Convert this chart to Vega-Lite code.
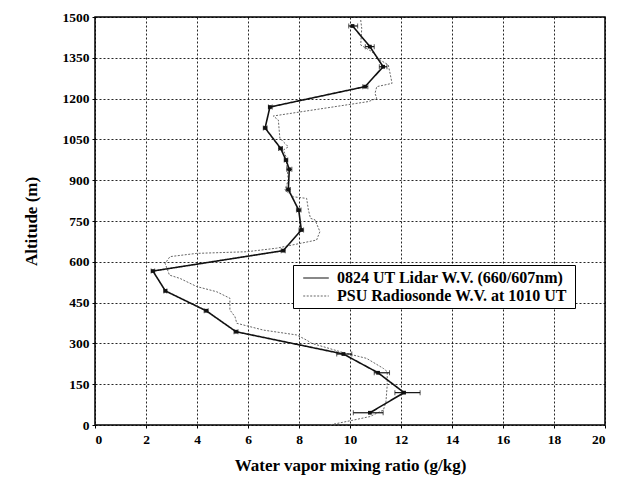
{
  "$schema": "https://vega.github.io/schema/vega-lite/v6.json",
  "width": 510,
  "height": 408,
  "autosize": {"type": "none"},
  "padding": {"left": 95, "top": 17, "right": 13, "bottom": 57},
  "background": "white",
  "config": {
    "view": {"stroke": "black", "strokeWidth": 1.5},
    "font": "Liberation Serif",
    "axis": {
      "labelFont": "Liberation Serif", "labelFontWeight": "bold", "labelFontSize": 13.5, "labelColor": "black",
      "titleFont": "Liberation Serif", "titleFontWeight": "bold", "titleFontSize": 17, "titleColor": "black",
      "grid": true, "gridColor": "black", "gridDash": [2, 2], "gridOpacity": 0.85, "gridWidth": 1,
      "domain": false, "tickColor": "black", "tickSize": 3
    }
  },
  "datasets": {
    "lidar": [
      {"alt": 1467, "v": 10.1, "lo": 9.95, "hi": 10.3},
      {"alt": 1391, "v": 10.78, "lo": 10.6, "hi": 10.95},
      {"alt": 1317, "v": 11.3, "lo": 11.15, "hi": 11.45},
      {"alt": 1244, "v": 10.59, "lo": 10.5, "hi": 10.7},
      {"alt": 1169, "v": 6.86, "lo": 6.8, "hi": 6.95},
      {"alt": 1092, "v": 6.67, "lo": 6.6, "hi": 6.75},
      {"alt": 1017, "v": 7.28, "lo": 7.2, "hi": 7.35},
      {"alt": 974, "v": 7.49, "lo": 7.42, "hi": 7.56},
      {"alt": 940, "v": 7.62, "lo": 7.52, "hi": 7.72},
      {"alt": 866, "v": 7.58, "lo": 7.5, "hi": 7.66},
      {"alt": 790, "v": 7.99, "lo": 7.9, "hi": 8.08},
      {"alt": 717, "v": 8.09, "lo": 8.0, "hi": 8.18},
      {"alt": 641, "v": 7.38, "lo": 7.3, "hi": 7.46},
      {"alt": 566, "v": 2.27, "lo": 2.2, "hi": 2.34},
      {"alt": 493, "v": 2.76, "lo": 2.7, "hi": 2.82},
      {"alt": 420, "v": 4.36, "lo": 4.28, "hi": 4.44},
      {"alt": 343, "v": 5.53, "lo": 5.45, "hi": 5.61},
      {"alt": 261, "v": 9.74, "lo": 9.48, "hi": 10.07},
      {"alt": 192, "v": 11.1, "lo": 10.95, "hi": 11.55},
      {"alt": 119, "v": 12.12, "lo": 11.76, "hi": 12.75},
      {"alt": 45, "v": 10.78, "lo": 10.13, "hi": 11.3}
    ],
    "sonde": [
      {"alt": 1489, "v": 10.42}, {"alt": 1458, "v": 10.46}, {"alt": 1397, "v": 10.42},
      {"alt": 1373, "v": 10.85}, {"alt": 1342, "v": 11.18}, {"alt": 1324, "v": 11.5},
      {"alt": 1293, "v": 11.57}, {"alt": 1256, "v": 11.65}, {"alt": 1244, "v": 11.05},
      {"alt": 1219, "v": 10.98}, {"alt": 1201, "v": 11.05}, {"alt": 1189, "v": 10.72},
      {"alt": 1136, "v": 6.99}, {"alt": 1121, "v": 7.19}, {"alt": 1054, "v": 7.25},
      {"alt": 1023, "v": 7.58}, {"alt": 1011, "v": 7.39}, {"alt": 986, "v": 7.49},
      {"alt": 901, "v": 7.58}, {"alt": 864, "v": 7.45}, {"alt": 839, "v": 7.78},
      {"alt": 833, "v": 8.3}, {"alt": 790, "v": 8.37}, {"alt": 760, "v": 8.45},
      {"alt": 754, "v": 8.63}, {"alt": 711, "v": 8.82}, {"alt": 680, "v": 8.69},
      {"alt": 650, "v": 7.12}, {"alt": 637, "v": 5.95}, {"alt": 631, "v": 3.99},
      {"alt": 619, "v": 2.94}, {"alt": 594, "v": 2.75}, {"alt": 551, "v": 2.92},
      {"alt": 539, "v": 3.33}, {"alt": 509, "v": 3.99}, {"alt": 490, "v": 4.77},
      {"alt": 466, "v": 5.29}, {"alt": 423, "v": 5.29}, {"alt": 398, "v": 5.49},
      {"alt": 374, "v": 5.56}, {"alt": 349, "v": 6.6}, {"alt": 331, "v": 7.91},
      {"alt": 312, "v": 8.3}, {"alt": 300, "v": 8.5}, {"alt": 288, "v": 8.95},
      {"alt": 266, "v": 9.74}, {"alt": 245, "v": 10.65}, {"alt": 208, "v": 11.31},
      {"alt": 196, "v": 11.46}, {"alt": 147, "v": 11.46}, {"alt": 86, "v": 11.41},
      {"alt": 55, "v": 11.31}, {"alt": 31, "v": 10.78}, {"alt": 18, "v": 10.13},
      {"alt": 0, "v": 9.2}
    ]
  },
  "encoding": {
    "y": {"field": "alt", "type": "quantitative", "title": "Altitude (m)",
      "scale": {"domain": [0, 1500], "nice": false, "zero": false},
      "axis": {"values": [0, 150, 300, 450, 600, 750, 900, 1050, 1200, 1350, 1500], "format": "d", "titlePadding": 22, "labelPadding": 3}},
    "x": {"field": "v", "type": "quantitative", "title": "Water vapor mixing ratio (g/kg)",
      "scale": {"domain": [0, 20], "nice": false},
      "axis": {"values": [0, 2, 4, 6, 8, 10, 12, 14, 16, 18, 20], "titlePadding": 12, "labelPadding": 4}}
  },
  "layer": [
    {
      "data": {"name": "sonde"},
      "transform": [{"calculate": "'PSU  Radiosonde W.V. at 1010 UT'", "as": "series"}],
      "mark": {"type": "line", "strokeWidth": 1, "color": "#555"},
      "encoding": {
        "order": {"field": "alt", "type": "quantitative", "sort": "descending"},
        "color": {"field": "series", "type": "nominal",
          "scale": {"domain": ["0824 UT Lidar W.V. (660/607nm)", "PSU  Radiosonde W.V. at 1010 UT"], "range": ["#111111", "#666666"]},
          "legend": {"title": null, "orient": "none", "legendX": 198, "legendY": 248,
            "symbolType": "M-1.6,0H1.6", "symbolSize": 256, "symbolStrokeWidth": 1.2, "symbolFillColor": "transparent", "labelLimit": 400,
            "symbolOffset": 10,
            "labelFont": "Liberation Serif", "labelFontWeight": "bold", "labelFontSize": 16, "labelColor": "black",
            "strokeColor": "black", "fillColor": "white", "padding": 4, "rowPadding": 1, "labelOffset": 12}},
        "strokeDash": {"field": "series", "type": "nominal",
          "scale": {"domain": ["0824 UT Lidar W.V. (660/607nm)", "PSU  Radiosonde W.V. at 1010 UT"], "range": [[1, 0], [2, 1.5]]},
          "legend": null}
      }
    },
    {
      "data": {"name": "lidar"},
      "transform": [{"calculate": "'0824 UT Lidar W.V. (660/607nm)'", "as": "series"}],
      "mark": {"type": "line", "strokeWidth": 1.6},
      "encoding": {
        "order": {"field": "alt", "type": "quantitative", "sort": "descending"},
        "color": {"field": "series", "type": "nominal"},
        "strokeDash": {"field": "series", "type": "nominal", "legend": null}
      }
    },
    {
      "data": {"name": "lidar"},
      "mark": {"type": "rule", "color": "#111", "strokeWidth": 1.2},
      "encoding": {
        "x": {"field": "lo", "type": "quantitative"},
        "x2": {"field": "hi"}
      }
    },
    {
      "data": {"name": "lidar"},
      "mark": {"type": "tick", "orient": "vertical", "color": "#111", "size": 5, "thickness": 1},
      "encoding": {"x": {"field": "lo", "type": "quantitative"}}
    },
    {
      "data": {"name": "lidar"},
      "mark": {"type": "tick", "orient": "vertical", "color": "#111", "size": 5, "thickness": 1},
      "encoding": {"x": {"field": "hi", "type": "quantitative"}}
    },
    {
      "data": {"name": "lidar"},
      "mark": {"type": "square", "color": "#111", "size": 14, "opacity": 1, "filled": true},
      "encoding": {}
    }
  ]
}
